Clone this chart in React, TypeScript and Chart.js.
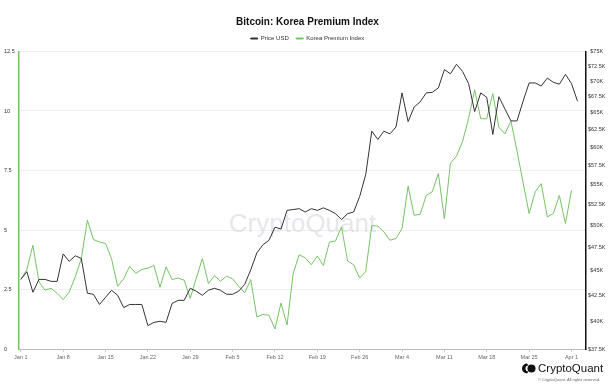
import React, { useEffect, useRef } from "react";
import { Chart, registerables } from "chart.js";
Chart.register(...registerables);

const tickDays = [0, 7, 14, 21, 28, 35, 42, 49, 56, 63, 70, 77, 84, 91];
const tickLabels = ["Jan 1", "Jan 8", "Jan 15", "Jan 22", "Jan 29", "Feb 5", "Feb 12", "Feb 19", "Feb 26", "Mar 4", "Mar 11", "Mar 18", "Mar 25", "Apr 1"];

// Price USD in thousands, daily from Jan 1
const priceUSD = [
  44.1, 44.9, 42.8, 44.1, 44.1, 43.9, 43.9, 46.8, 46.0, 46.6,
  46.3, 42.7, 42.6, 41.6, 42.3, 43.0, 42.5, 41.3, 41.6, 41.6,
  41.6, 39.6, 39.9, 40.0, 39.9, 41.7, 42.0, 42.0, 43.2, 42.9,
  42.5, 43.0, 43.2, 43.0, 42.6, 42.6, 42.9, 43.6, 45.1, 46.9,
  47.8, 48.3, 49.8, 49.6, 51.8, 51.9, 52.0, 51.6, 52.0, 51.8,
  52.1, 51.8, 51.4, 50.7, 51.4, 51.6, 53.5, 56.3, 62.3, 61.1,
  62.3, 61.9, 62.9, 68.1, 63.7, 65.9, 66.7, 68.1, 68.2, 68.9,
  71.9, 71.2, 72.8, 71.6, 69.6, 65.2, 68.1, 67.4, 61.8, 67.5,
  65.6, 63.8, 63.8, 66.8, 69.7, 69.7, 69.2, 70.5, 69.8, 69.5,
  71.1, 69.6, 66.8,
];

// Korea Premium Index, daily from Jan 1
const koreaPremium = [
  2.92, 3.34, 4.36, 2.82, 2.47, 2.55, 2.34, 2.08, 2.39, 3.03,
  3.80, 5.41, 4.60, 4.50, 4.43, 3.79, 2.64, 2.95, 3.48, 3.18,
  3.34, 3.40, 3.51, 2.59, 3.45, 2.92, 2.98, 2.89, 2.13, 2.98,
  3.80, 2.75, 3.08, 2.85, 3.06, 2.95, 2.64, 2.36, 2.92, 1.35,
  1.45, 1.42, 0.84, 1.93, 1.01, 3.16, 3.96, 3.83, 3.54, 3.91,
  3.51, 4.49, 4.54, 5.13, 3.70, 3.54, 2.98, 3.26, 5.19, 5.16,
  4.92, 4.57, 4.64, 5.06, 6.84, 5.62, 5.66, 6.45, 6.61, 7.37,
  5.47, 7.81, 8.10, 8.72, 9.69, 10.89, 9.68, 9.67, 10.73, 9.32,
  9.04, 9.58, 8.31, 7.00, 5.69, 6.60, 6.95, 5.55, 5.69, 6.45,
  5.27, 6.67,
];

const leftTicks = [0, 2.5, 5, 7.5, 10, 12.5];
const rightTicks = [37.5, 40, 42.5, 45, 47.5, 50, 52.5, 55, 57.5, 60, 62.5, 65, 67.5, 70, 72.5, 75];

const FONT = "'Liberation Sans', Arial, Helvetica, sans-serif";
const GREEN = "#74c365";

const watermark = {
  id: "watermark",
  beforeDatasetsDraw(chart: any) {
    const { ctx, chartArea } = chart;
    ctx.save();
    ctx.font = `26px ${FONT}`;
    ctx.fillStyle = "rgba(205,205,215,0.5)";
    ctx.textAlign = "center";
    ctx.textBaseline = "middle";
    ctx.fillText("CryptoQuant", (chartArea.left + chartArea.right) / 2, 225);
    ctx.restore();
  },
};

const logo = {
  id: "logo",
  afterDraw(chart: any) {
    const { ctx } = chart;
    ctx.save();
    ctx.fillStyle = "#111";
    ctx.beginPath();
    ctx.arc(527, 368.5, 5, Math.PI * 0.5, Math.PI * 1.5);
    ctx.arc(528.5, 368.5, 3, Math.PI * 1.5, Math.PI * 0.5, true);
    ctx.closePath();
    ctx.fill();
    ctx.beginPath();
    ctx.arc(531.5, 368.5, 4, 0, Math.PI * 2);
    ctx.fill();
    ctx.font = `500 11.5px ${FONT}`;
    ctx.textAlign = "left";
    ctx.textBaseline = "middle";
    ctx.fillText("CryptoQuant", 538, 369);
    ctx.font = `4px ${FONT}`;
    ctx.fillStyle = "#666";
    ctx.fillText("© CryptoQuant. All rights reserved.", 538, 379.5);
    ctx.restore();
  },
};

export default function App() {
  const ref = useRef<HTMLCanvasElement | null>(null);
  useEffect(() => {
    if (!ref.current) return;
    const chart = new Chart(ref.current, {
      type: "line",
      data: {
        datasets: [
          {
            label: "Price USD",
            data: priceUSD.map((v, i) => ({ x: i, y: v * 1000 })),
            borderColor: "#333",
            backgroundColor: "#333",
            borderWidth: 1,
            pointRadius: 0,
            yAxisID: "y1",
          },
          {
            label: "Korea Premium Index",
            data: koreaPremium.map((v, i) => ({ x: i, y: v })),
            borderColor: GREEN,
            backgroundColor: GREEN,
            borderWidth: 1,
            pointRadius: 0,
            yAxisID: "y",
          },
        ],
      },
      options: {
        responsive: false,
        animation: false,
        layout: { padding: { left: 4, right: 0, top: 1, bottom: 0 } },
        plugins: {
          title: {
            display: true,
            text: "Bitcoin: Korea Premium Index",
            color: "#111",
            font: { family: FONT, size: 10, weight: "bold" },
            padding: { top: 15, bottom: 0 },
          },
          legend: {
            display: true,
            labels: {
              font: { family: FONT, size: 6 },
              color: "#333",
              boxWidth: 7,
              boxHeight: 1,
              padding: 7.5,
            },
          },
          tooltip: { enabled: false },
        },
        scales: {
          x: {
            type: "linear",
            min: -0.3,
            max: 93.4,
            afterBuildTicks: (scale: any) => {
              scale.ticks = tickDays.map((v) => ({ value: v }));
            },
            afterFit: (scale: any) => {
              scale.height = 39;
            },
            ticks: {
              autoSkip: false,
              maxRotation: 0,
              color: "#666",
              font: { family: FONT, size: 5.5 },
              padding: 2,
              callback: (v: any) => {
                const idx = tickDays.indexOf(Number(v));
                return idx >= 0 ? tickLabels[idx] : "";
              },
            },
            grid: { display: true, drawOnChartArea: false, drawTicks: true, tickLength: 3, color: "#ccc" },
            border: { display: true, color: "#bbb", dash: [1, 1], width: 1 },
          },
          y: {
            type: "linear",
            position: "left",
            min: 0,
            max: 12.5,
            afterBuildTicks: (scale: any) => {
              scale.ticks = leftTicks.map((v) => ({ value: v }));
            },
            afterFit: (scale: any) => {
              scale.width = 15;
            },
            ticks: {
              crossAlign: "far",
              color: "#333",
              font: { family: FONT, size: 5.5 },
              padding: 2,
              callback: (v: any) => String(v),
            },
            grid: { display: true, drawTicks: false, color: "#f0f0f0", lineWidth: 1 },
            border: { display: true, color: GREEN, width: 1.5 },
          },
          y1: {
            type: "logarithmic",
            position: "right",
            min: 37500,
            max: 75000,
            afterBuildTicks: (scale: any) => {
              scale.ticks = rightTicks.map((v) => ({ value: v * 1000 }));
            },
            afterFit: (scale: any) => {
              scale.width = 25;
            },
            ticks: {
              crossAlign: "center",
              color: "#333",
              font: { family: FONT, size: 5.5 },
              padding: 2,
              callback: (v: any) => "$" + Number(v) / 1000 + "K",
            },
            grid: { display: false, drawTicks: false },
            border: { display: true, color: "#111", width: 1.5 },
          },
        },
      },
      plugins: [watermark, logo],
    } as any);
    return () => chart.destroy();
  }, []);
  return (
    <div style={{ position: "fixed", left: 0, top: 0, width: 611, height: 388, background: "#fff" }}>
      <canvas ref={ref} width={611} height={388} />
    </div>
  );
}
